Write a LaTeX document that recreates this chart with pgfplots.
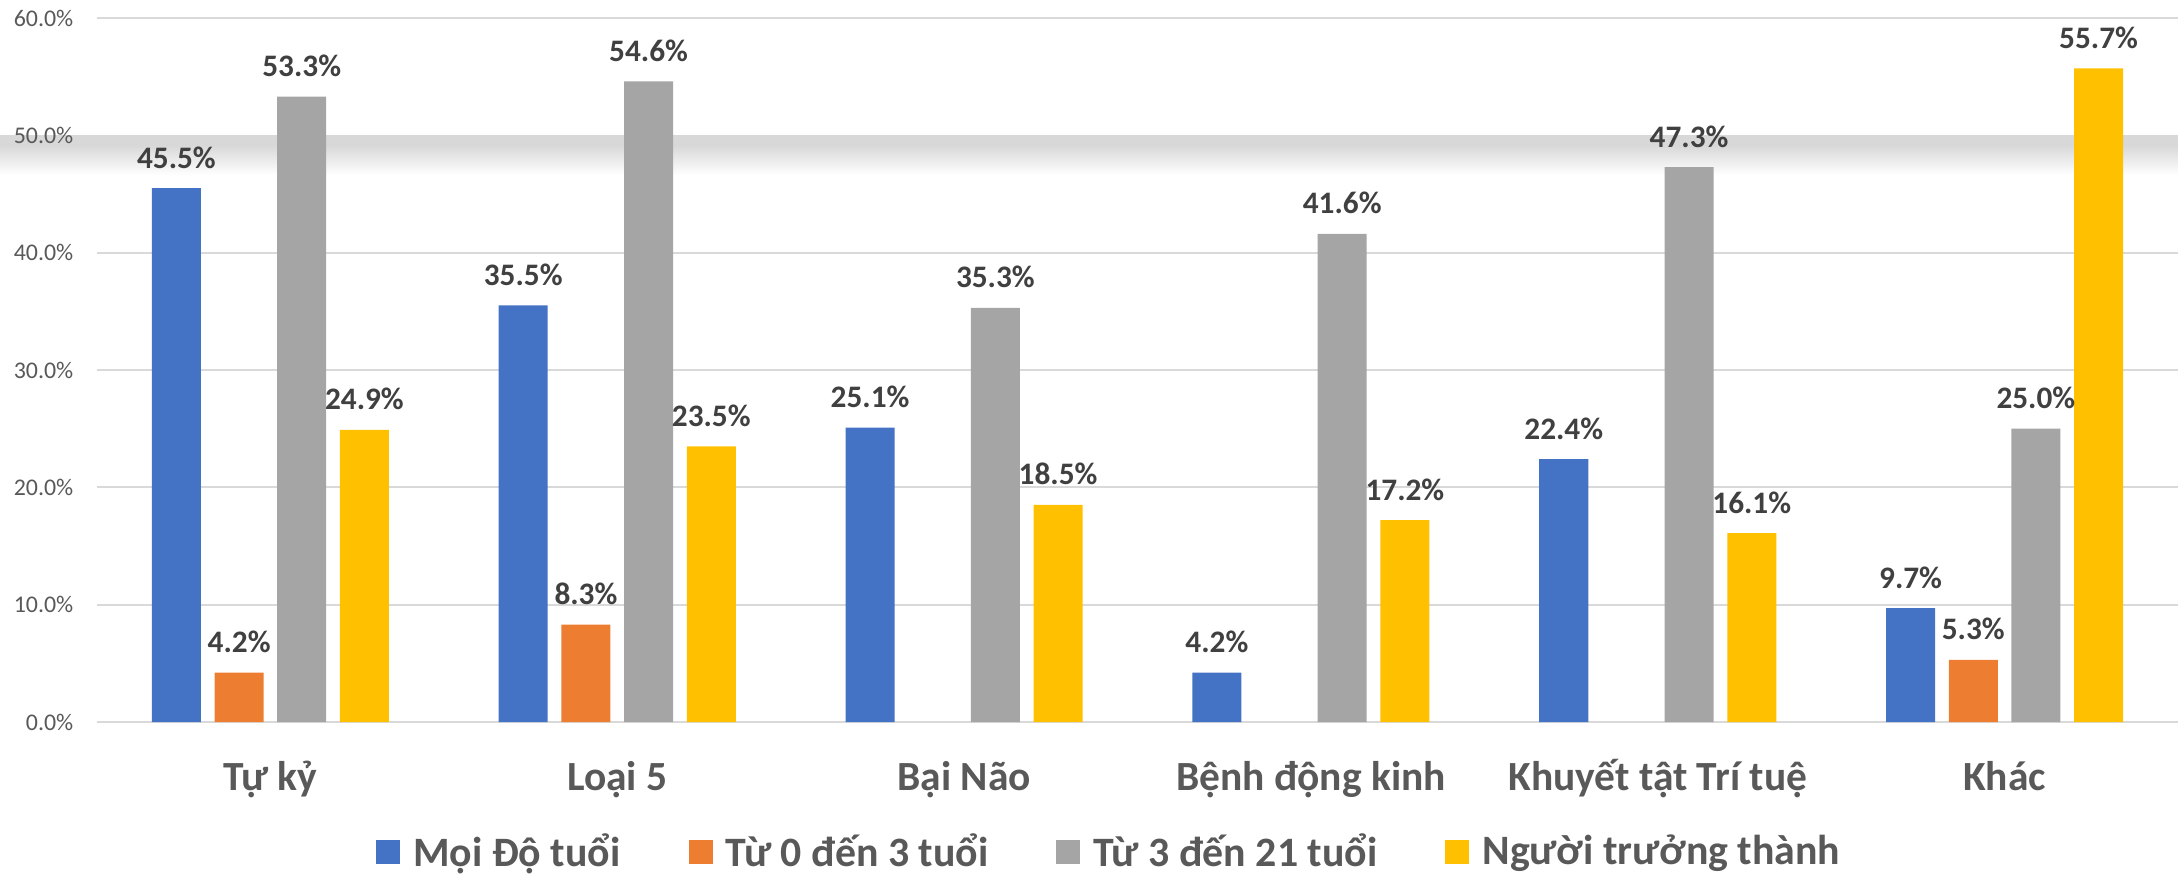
\documentclass[border=0pt]{standalone}
\usepackage{pgfplots}
\pgfplotsset{compat=1.18}
\usepackage{fontspec}
\setmainfont{Carlito}
\definecolor{cBlue}{HTML}{4472C4}
\definecolor{cOrange}{HTML}{ED7D31}
\definecolor{cGray}{HTML}{A5A5A5}
\definecolor{cYellow}{HTML}{FFC000}
\definecolor{cGrid}{HTML}{D9D9D9}
\definecolor{cText}{HTML}{595959}
\definecolor{cLabel}{HTML}{404040}
\definecolor{cBand}{HTML}{D8D8D8}
\begin{document}
\begin{tikzpicture}
\useasboundingbox (-0.97,-1.52) rectangle (20.81,7.22);
\fill[cBand] (-0.97,5.867) rectangle (20.81,5.767);
\shade[top color=cBand, bottom color=white] (-0.97,5.767) rectangle (20.81,5.468);
\begin{axis}[
  scale only axis,
  width=20.81cm, height=7.04cm,
  clip=false,
  ymin=0, ymax=60,
  xmin=-0.5, xmax=5.5,
  ytick={0,10,20,30,40,60},
  extra y ticks={50},
  extra y tick style={ymajorgrids=false},
  xtick={0,1,2,3,4,5},
  xticklabels={Tự kỷ, Loại 5, Bại Não, Bệnh động kinh, Khuyết tật Trí tuệ, Khác},
  ymajorgrids,
  grid style={color=cGrid, line width=0.6pt},
  axis line style={draw=none},
  major tick length=0pt,
  /pgf/number format/assume math mode=true,
  yticklabel={\pgfmathprintnumber[fixed,fixed zerofill,precision=1]{\tick}\%},
  yticklabel style={font=\fontsize{6.8}{8}\selectfont, text=cText, anchor=east, inner sep=0pt, xshift=-2.3mm},
  xticklabel style={font=\fontsize{11.8}{14}\selectfont\bfseries, text=cText, anchor=base, inner sep=0pt, yshift=-6.8mm},
  ybar,
  bar width=0.49cm,
  nodes near coords={\pgfmathprintnumber[fixed,fixed zerofill,precision=1]{\pgfplotspointmeta}\%},
  every node near coord/.append style={font=\fontsize{8.9}{10}\selectfont\bfseries, text=cLabel, anchor=base, inner sep=0pt, yshift=2mm},
  legend columns=4,
  legend style={draw=none, fill=none, at={(0.486,-0.185)}, anchor=center,
    font=\fontsize{11.9}{14}\selectfont\bfseries, text=cText,
    nodes={inner sep=0pt},
    /tikz/every odd column/.style={column sep=1.3mm},
    /tikz/every even column/.style={column sep=6.8mm}},
  legend cell align=left,
  legend image code/.code={\fill[#1] (0cm,-0.12cm) rectangle (0.24cm,0.12cm);},
]
\addplot[fill=cBlue, draw=none, bar shift=-0.94cm] coordinates {(0,45.5) (1,35.5) (2,25.1) (3,4.2) (4,22.4) (5,9.7)};
\addplot[fill=cOrange, draw=none, bar shift=-0.313cm] coordinates {(0,4.2) (1,8.3) (5,5.3)};
\addplot[fill=cGray, draw=none, bar shift=0.313cm] coordinates {(0,53.3) (1,54.6) (2,35.3) (3,41.6) (4,47.3) (5,25.0)};
\addplot[fill=cYellow, draw=none, bar shift=0.94cm] coordinates {(0,24.9) (1,23.5) (2,18.5) (3,17.2) (4,16.1) (5,55.7)};
\legend{Mọi Độ tuổi, Từ 0 đến 3 tuổi, Từ 3 đến 21 tuổi, Người trưởng thành}
\end{axis}
\end{tikzpicture}
\end{document}
